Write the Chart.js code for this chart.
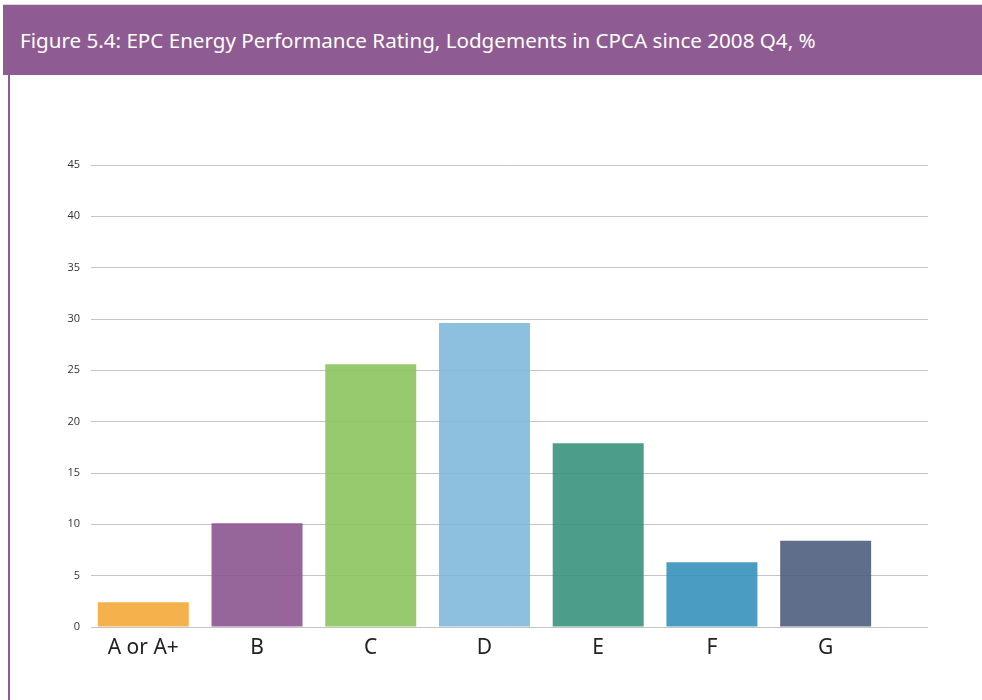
<!DOCTYPE html>
<html>
<head>
<meta charset="utf-8">
<script src="https://cdn.jsdelivr.net/npm/chart.js@4"></script>
<style>
    body { margin: 0; background: #fff; width: 982px; height: 700px; overflow: hidden; position: relative; font-family: "Noto Sans", "Open Sans", sans-serif; }
    .topline { position: absolute; left: 3px; top: 4px; width: 979px; height: 1px; background: #d8d8d8; }
    .title-bar { position: absolute; left: 3px; top: 5px; width: 979px; height: 70px; background: #8e5c93; }
    .title-bar span { position: absolute; left: 17px; top: 21px; color: #fff; font-size: 20.6px; letter-spacing: 0; white-space: nowrap; }
    .side-line { position: absolute; left: 8px; top: 75px; width: 2px; height: 625px; background: #8e5c93; }
    .chart-box { position: absolute; left: 10px; top: 75px; width: 972px; height: 625px; }
</style>
</head>
<body>
<div class="topline"></div>
<div class="title-bar"><span>Figure 5.4: EPC Energy Performance Rating, Lodgements in CPCA since 2008 Q4, %</span></div>
<div class="side-line"></div>
<div class="chart-box"><canvas id="epcChart"></canvas></div>
<script>
const ratings = ['A or A+', 'B', 'C', 'D', 'E', 'F', 'G'];
const shares = [2.4, 10.1, 25.6, 29.6, 17.9, 6.3, 8.4];
const barColors = [
    'rgba(244, 170, 56, 0.9)',   // orange
    'rgba(139, 85, 144, 0.9)',   // purple
    'rgba(140, 195, 94, 0.9)',   // green
    'rgba(128, 185, 218, 0.9)',  // light blue
    'rgba(56, 147, 126, 0.9)',   // teal
    'rgba(54, 145, 189, 0.9)',   // blue
    'rgba(78, 94, 125, 0.9)'     // slate
];
const yTicks = [0, 5, 10, 15, 20, 25, 30, 35, 40, 45];

new Chart(document.getElementById('epcChart'), {
    type: 'bar',
    data: {
        datasets: [{
            data: shares.map((v, i) => ({ x: i, y: v })),
            backgroundColor: barColors,
            borderWidth: 0,
            barPercentage: 0.8,
            categoryPercentage: 1
        }]
    },
    options: {
        responsive: true,
        maintainAspectRatio: false,
        animation: false,
        layout: { padding: { top: 90, right: 54, left: 0, bottom: 0 } },
        plugins: {
            legend: { display: false },
            tooltip: { enabled: false }
        },
        scales: {
            x: {
                type: 'linear',
                offset: false,
                min: -0.46,
                max: 6.9,
                grid: { display: false, offset: false },
                border: { display: false },
                afterBuildTicks: function (scale) {
                    scale.ticks = ratings.map((_, i) => ({ value: i }));
                },
                afterFit: function (scale) { scale.height = 73; },
                ticks: {
                    padding: 0,
                    color: '#222',
                    font: { size: 21, family: '"Noto Sans", "Open Sans", sans-serif' },
                    maxRotation: 0,
                    autoSkip: false,
                    callback: function (value) {
                        return ratings[value] !== undefined ? ratings[value] : '';
                    }
                }
            },
            y: {
                min: 0,
                max: 45,
                afterBuildTicks: function (scale) {
                    scale.ticks = yTicks.map(v => ({ value: v }));
                },
                afterFit: function (scale) { scale.width = 81; },
                grid: { color: '#c4c4c4', lineWidth: 1, drawTicks: false },
                border: { display: false },
                ticks: {
                    padding: 11,
                    color: '#333',
                    font: { size: 11, family: '"Open Sans", "Noto Sans", sans-serif' }
                }
            }
        }
    }
});
</script>
</body>
</html>
